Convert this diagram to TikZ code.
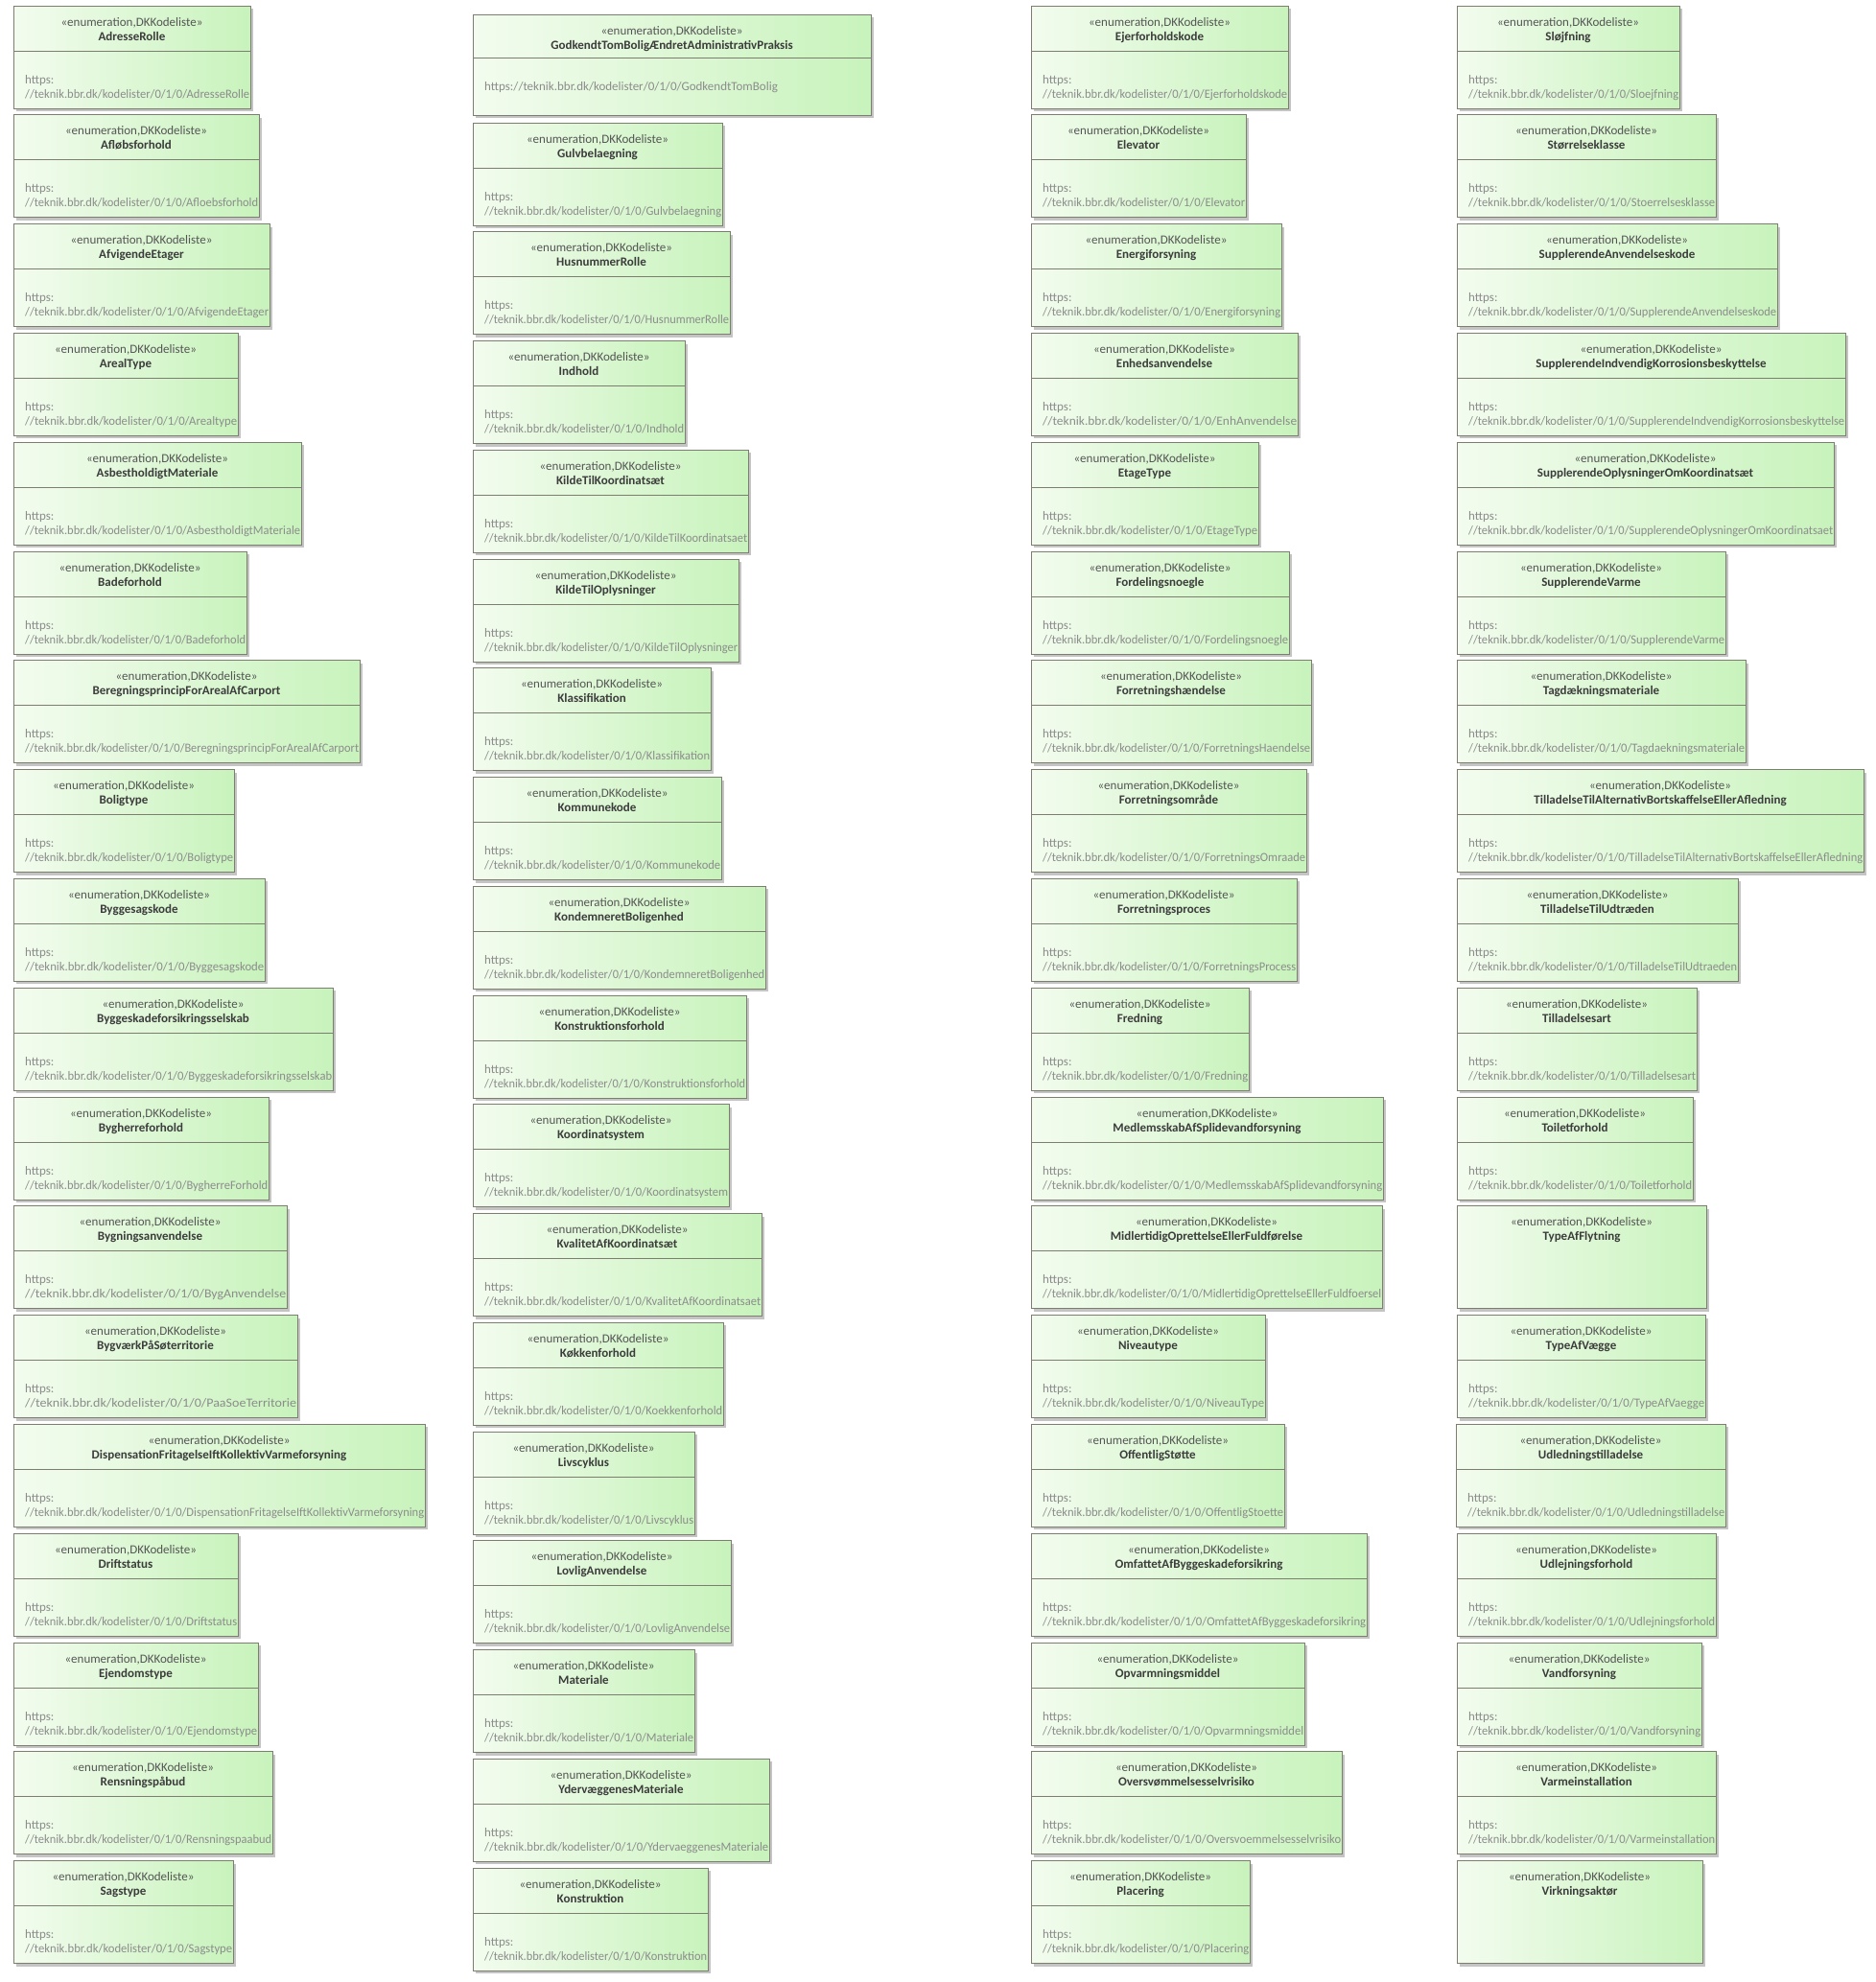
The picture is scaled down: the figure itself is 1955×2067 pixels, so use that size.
\documentclass[tikz,border=0pt]{standalone}
\usepackage{fontspec}
\usepackage{graphicx}
\setmainfont{Carlito}
\definecolor{gl}{RGB}{243,252,239}
\definecolor{gr}{RGB}{200,243,188}
\definecolor{bordc}{RGB}{125,125,112}
\definecolor{shadc}{RGB}{196,196,196}
\definecolor{stc}{RGB}{85,85,85}
\definecolor{nmc}{RGB}{60,60,60}
\definecolor{urlc}{RGB}{140,140,140}
\tikzset{
  boxbody/.style={draw=bordc, line width=1pt, left color=gl, right color=gr, inner sep=0pt, outer sep=0pt, anchor=north west},
  boxshadow/.style={fill=shadc},
  sepline/.style={draw=bordc, line width=1pt},
  stereo/.style={anchor=base, inner sep=0pt, text=stc, font=\fontsize{13}{15}\selectfont},
  ename/.style={anchor=base, inner sep=0pt, text=nmc, font=\fontsize{13}{15}\selectfont\bfseries},
  urltxt/.style={anchor=base west, inner sep=0pt, text=urlc, font=\fontsize{13}{15}\selectfont},
}
% #1 id, #2 left, #3 right, #4 top, #5 height, #6 name
\newcommand\eboxcore[6]{%
  \pgfmathsetmacro\bL{#2}\pgfmathsetmacro\bR{#3}\pgfmathsetmacro\bT{#4}\pgfmathsetmacro\bH{#5}%
  \pgfmathsetmacro\bW{\bR-\bL}\pgfmathsetmacro\bC{(\bL+\bR)/2}%
  \path[boxshadow] (\bL+3,\bT+3) rectangle (\bR+3,\bT+\bH+3);
  \node[boxbody, minimum width=\bW pt, minimum height=\bH pt] (#1) at (\bL,\bT) {};
  \node[stereo] (#1-st) at (\bC,\bT+21) {«enumeration,DKKodeliste»};
  \node[ename] (#1-nm) at (\bC,\bT+36) {#6};
}
% standard box with two-line URL
\newcommand\ebox[6]{%
  \eboxcore{#1}{#2}{#3}{#4}{107}{#5}%
  \draw[sepline] ([yshift=-47pt]#1.north west) -- ([yshift=-47pt]#1.north east);
  \node[urltxt] (#1-u1) at (\bL+12,\bT+81) {https:};
  \pgfmathsetmacro\uW{\bW-13}%
  \node[urltxt] (#1-u2) at (\bL+12,\bT+96) {\resizebox{\uW pt}{\height}{//teknik.bbr.dk/kodelister/0/1/0/#6}};
}
% box without URL compartment
\newcommand\eboxn[5]{%
  \eboxcore{#1}{#2}{#3}{#4}{107}{#5}%
}
\begin{document}
\begin{tikzpicture}[x=1pt,y=-1pt]
\useasboundingbox (0,0) rectangle (1955,2067);
\fill[white] (0,0) rectangle (1955,2067);
% ---------- column 1
\ebox{a0}{14}{261}{6+113.8*0}{AdresseRolle}{AdresseRolle}
\ebox{a1}{14}{270}{6+113.8*1}{Afløbsforhold}{Afloebsforhold}
\ebox{a2}{14}{281}{6+113.8*2}{AfvigendeEtager}{AfvigendeEtager}
\ebox{a3}{14}{248}{6+113.8*3}{ArealType}{Arealtype}
\ebox{a4}{14}{314}{6+113.8*4}{AsbestholdigtMateriale}{AsbestholdigtMateriale}
\ebox{a5}{14}{257}{6+113.8*5}{Badeforhold}{Badeforhold}
\ebox{a6}{14}{375}{6+113.8*6}{BeregningsprincipForArealAfCarport}{BeregningsprincipForArealAfCarport}
\ebox{a7}{14}{244}{6+113.8*7}{Boligtype}{Boligtype}
\ebox{a8}{14}{276}{6+113.8*8}{Byggesagskode}{Byggesagskode}
\ebox{a9}{14}{347}{6+113.8*9}{Byggeskadeforsikringsselskab}{Byggeskadeforsikringsselskab}
\ebox{a10}{14}{280}{6+113.8*10}{Bygherreforhold}{BygherreForhold}
\ebox{a11}{14}{299}{6+113.8*11}{Bygningsanvendelse}{BygAnvendelse}
\ebox{a12}{14}{310}{6+113.8*12}{BygværkPåSøterritorie}{PaaSoeTerritorie}
\ebox{a13}{14}{443}{6+113.8*13}{DispensationFritagelseIftKollektivVarmeforsyning}{DispensationFritagelseIftKollektivVarmeforsyning}
\ebox{a14}{14}{248}{6+113.8*14}{Driftstatus}{Driftstatus}
\ebox{a15}{14}{269}{6+113.8*15}{Ejendomstype}{Ejendomstype}
\ebox{a16}{14}{284}{6+113.8*16}{Rensningspåbud}{Rensningspaabud}
\ebox{a17}{14}{243}{6+113.8*17}{Sagstype}{Sagstype}
% ---------- column 2
\eboxcore{b0}{493}{908}{15}{105}{GodkendtTomBoligÆndretAdministrativPraksis}
\draw[sepline] ([yshift=-45pt]b0.north west) -- ([yshift=-45pt]b0.north east);
\node[urltxt] (b0-u1) at (505,94) {https://teknik.bbr.dk/kodelister/0/1/0/GodkendtTomBolig};
\ebox{b1}{493}{753}{128+113.75*0}{Gulvbelaegning}{Gulvbelaegning}
\ebox{b2}{493}{761}{128+113.75*1}{HusnummerRolle}{HusnummerRolle}
\ebox{b3}{493}{714}{128+113.75*2}{Indhold}{Indhold}
\ebox{b4}{493}{780}{128+113.75*3}{KildeTilKoordinatsæt}{KildeTilKoordinatsaet}
\ebox{b5}{493}{770}{128+113.75*4}{KildeTilOplysninger}{KildeTilOplysninger}
\ebox{b6}{493}{741}{128+113.75*5}{Klassifikation}{Klassifikation}
\ebox{b7}{493}{752}{128+113.75*6}{Kommunekode}{Kommunekode}
\ebox{b8}{493}{798}{128+113.75*7}{KondemneretBoligenhed}{KondemneretBoligenhed}
\ebox{b9}{493}{778}{128+113.75*8}{Konstruktionsforhold}{Konstruktionsforhold}
\ebox{b10}{493}{760}{128+113.75*9}{Koordinatsystem}{Koordinatsystem}
\ebox{b11}{493}{794}{128+113.75*10}{KvalitetAfKoordinatsæt}{KvalitetAfKoordinatsaet}
\ebox{b12}{493}{754}{128+113.75*11}{Køkkenforhold}{Koekkenforhold}
\ebox{b13}{493}{724}{128+113.75*12}{Livscyklus}{Livscyklus}
\ebox{b14}{493}{762}{128+113.75*13}{LovligAnvendelse}{LovligAnvendelse}
\ebox{b15}{493}{724}{128+113.75*14}{Materiale}{Materiale}
\ebox{b16}{493}{802}{128+113.75*15}{YdervæggenesMateriale}{YdervaeggenesMateriale}
\ebox{b17}{493}{738}{128+113.75*16}{Konstruktion}{Konstruktion}
% ---------- column 3
\ebox{c0}{1075}{1343}{6+113.8*0}{Ejerforholdskode}{Ejerforholdskode}
\ebox{c1}{1075}{1299}{6+113.8*1}{Elevator}{Elevator}
\ebox{c2}{1075}{1336}{6+113.8*2}{Energiforsyning}{Energiforsyning}
\ebox{c3}{1075}{1353}{6+113.8*3}{Enhedsanvendelse}{EnhAnvendelse}
\ebox{c4}{1075}{1312}{6+113.8*4}{EtageType}{EtageType}
\ebox{c5}{1075}{1344}{6+113.8*5}{Fordelingsnoegle}{Fordelingsnoegle}
\ebox{c6}{1075}{1367}{6+113.8*6}{Forretningshændelse}{ForretningsHaendelse}
\ebox{c7}{1075}{1362}{6+113.8*7}{Forretningsområde}{ForretningsOmraade}
\ebox{c8}{1075}{1352}{6+113.8*8}{Forretningsproces}{ForretningsProcess}
\ebox{c9}{1075}{1302}{6+113.8*9}{Fredning}{Fredning}
\ebox{c10}{1075}{1442}{6+113.8*10}{MedlemsskabAfSplidevandforsyning}{MedlemsskabAfSplidevandforsyning}
\ebox{c11}{1075}{1441}{6+113.8*11}{MidlertidigOprettelseEllerFuldførelse}{MidlertidigOprettelseEllerFuldfoersel}
\ebox{c12}{1075}{1319}{6+113.8*12}{Niveautype}{NiveauType}
\ebox{c13}{1075}{1339}{6+113.8*13}{OffentligStøtte}{OffentligStoette}
\ebox{c14}{1075}{1425}{6+113.8*14}{OmfattetAfByggeskadeforsikring}{OmfattetAfByggeskadeforsikring}
\ebox{c15}{1075}{1360}{6+113.8*15}{Opvarmningsmiddel}{Opvarmningsmiddel}
\ebox{c16}{1075}{1399}{6+113.8*16}{Oversvømmelsesselvrisiko}{Oversvoemmelsesselvrisiko}
\ebox{c17}{1075}{1303}{6+113.8*17}{Placering}{Placering}
% ---------- column 4
\ebox{d0}{1519}{1751}{6+113.8*0}{Sløjfning}{Sloejfning}
\ebox{d1}{1519}{1789}{6+113.8*1}{Størrelseklasse}{Stoerrelsesklasse}
\ebox{d2}{1519}{1853}{6+113.8*2}{SupplerendeAnvendelseskode}{SupplerendeAnvendelseskode}
\ebox{d3}{1519}{1924}{6+113.8*3}{SupplerendeIndvendigKorrosionsbeskyttelse}{SupplerendeIndvendigKorrosionsbeskyttelse}
\ebox{d4}{1519}{1912}{6+113.8*4}{SupplerendeOplysningerOmKoordinatsæt}{SupplerendeOplysningerOmKoordinatsaet}
\ebox{d5}{1519}{1799}{6+113.8*5}{SupplerendeVarme}{SupplerendeVarme}
\ebox{d6}{1519}{1820}{6+113.8*6}{Tagdækningsmateriale}{Tagdaekningsmateriale}
\ebox{d7}{1519}{1943}{6+113.8*7}{TilladelseTilAlternativBortskaffelseEllerAfledning}{TilladelseTilAlternativBortskaffelseEllerAfledning}
\ebox{d8}{1519}{1812}{6+113.8*8}{TilladelseTilUdtræden}{TilladelseTilUdtraeden}
\ebox{d9}{1519}{1769}{6+113.8*9}{Tilladelsesart}{Tilladelsesart}
\ebox{d10}{1519}{1765}{6+113.8*10}{Toiletforhold}{Toiletforhold}
\eboxn{d11}{1519}{1779}{6+113.8*11}{TypeAfFlytning}
\ebox{d12}{1519}{1778}{6+113.8*12}{TypeAfVægge}{TypeAfVaegge}
\ebox{d13}{1518}{1799}{6+113.8*13}{Udledningstilladelse}{Udledningstilladelse}
\ebox{d14}{1519}{1789}{6+113.8*14}{Udlejningsforhold}{Udlejningsforhold}
\ebox{d15}{1519}{1774}{6+113.8*15}{Vandforsyning}{Vandforsyning}
\ebox{d16}{1519}{1789}{6+113.8*16}{Varmeinstallation}{Varmeinstallation}
\eboxn{d17}{1519}{1775}{6+113.8*17}{Virkningsaktør}
\end{tikzpicture}
\end{document}
